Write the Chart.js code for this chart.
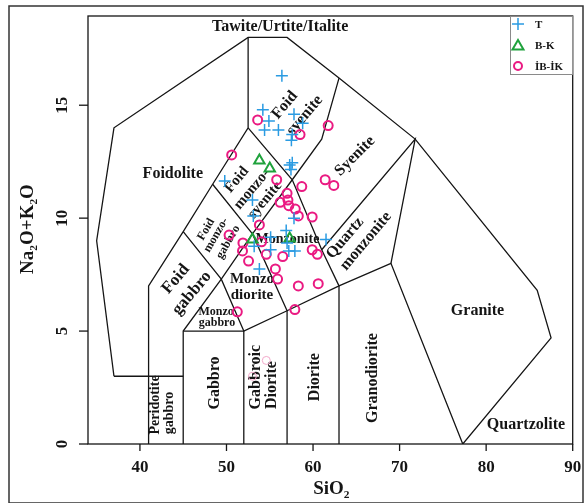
<!DOCTYPE html>
<html>
<head>
<meta charset="utf-8">
<script src="https://cdn.jsdelivr.net/npm/chart.js@4.4.0/dist/chart.umd.min.js"></script>
<style>
  body { margin: 0; background: #fff; }
  canvas { display: block; }
</style>
</head>
<body>
<canvas id="tasChart" width="588" height="503"></canvas>
<script>
// tick values
var xTicks = [40, 50, 60, 70, 80, 90];
var yTicks = [0, 5, 10, 15];

// sample groups (SiO2 vs Na2O+K2O, wt%)
var seriesNames = ['T', 'B-K', 'İB-İK'];
var tSiO2 = [56.4, 54.2, 54.9, 54.4, 56.0, 57.8, 58.8, 57.6, 57.5, 57.3, 57.6, 57.45, 49.8, 53.0, 53.1, 57.8, 56.9, 55.1, 55.1, 53.2, 57.0, 57.2, 57.9, 61.5, 53.8];
var tAlk  = [16.3, 14.8, 14.3, 13.9, 13.9, 14.6, 14.2, 13.7, 13.45, 12.35, 12.45, 12.15, 11.65, 10.8, 10.1, 10.0, 9.45, 9.15, 8.6, 8.75, 8.9, 8.55, 8.55, 9.05, 7.75];
var bkSiO2 = [53.8, 55.0, 53.0, 57.3];
var bkAlk  = [12.55, 12.2, 9.05, 9.1];
var ibSiO2 = [53.6, 58.5, 61.75, 50.6, 55.8, 58.7, 61.4, 62.4, 57.0, 56.2, 57.1, 57.2, 57.95, 58.3, 59.9, 53.8, 50.3, 51.9, 51.85, 52.55, 54.05, 54.6, 56.5, 59.9, 60.5, 55.65, 55.9, 58.3, 60.6, 57.9, 51.25];
var ibAlk  = [14.35, 13.7, 14.1, 12.8, 11.7, 11.4, 11.7, 11.45, 11.1, 10.7, 10.8, 10.55, 10.4, 10.1, 10.05, 9.7, 9.25, 8.9, 8.55, 8.1, 8.95, 8.4, 8.3, 8.6, 8.4, 7.75, 7.3, 7.0, 7.1, 5.95, 5.85];
// faint (ghost) circles in gabbroic diorite field
var ghostSiO2 = [54.6, 53.0];
var ghostAlk  = [3.7, 3.0];

// field boundaries (Middlemost 1994, plutonic TAS)
var fieldLines = [
  [[37,3],[35,9],[37,14],[52.5,18],[57,18],[63,16.2],[71.8,13.5],[85.9,6.8],[87.5,4.7],[77.3,0]],
  [[37,3],[45,3]],
  [[41,0],[41,7],[45,9.4],[48.4,11.5],[52.5,14],[52.5,18]],
  [[45,0],[45,5],[49.4,7.3],[53,9.3],[57.6,11.7],[61,13.5],[63,16.2]],
  [[45,9.4],[49.4,7.3],[52,5]],
  [[48.4,11.5],[53,9.3],[57,5.9]],
  [[52.5,14],[57.6,11.7],[61,8.6],[63,7]],
  [[45,5],[52,5],[57,5.9],[63,7],[69,8],[77.3,0]],
  [[52,0],[52,5]],
  [[57,0],[57,5.9]],
  [[63,0],[63,7]],
  [[61,8.6],[71.8,13.5],[69,8]]
];

// field names: [text, SiO2, alk, angle, font size]
var fieldNames = [
  ['Tawite/Urtite/Italite', 56.2, 18.45, 0, 16],
  ['Foidolite', 43.8, 11.95, 0, 16],
  ['Foid', 56.75, 15.0, -50, 16],
  ['syenite', 59.05, 14.55, -50, 16],
  ['Syenite', 64.85, 12.75, -45, 16],
  ['Foid', 51.2, 11.7, -50, 15],
  ['monzo-', 52.95, 11.28, -50, 15],
  ['syenite', 54.45, 10.8, -50, 15],
  ['Foid', 47.65, 9.5, -60, 12],
  ['monzo-', 48.8, 9.25, -60, 12],
  ['gabbro', 50.2, 8.94, -60, 12],
  ['Foid', 44.15, 7.3, -50, 17],
  ['gabbro', 46.0, 6.68, -50, 17],
  ['Monzonite', 57.05, 9.07, 0, 14],
  ['Monzo', 52.95, 7.3, 0, 15],
  ['diorite', 52.95, 6.59, 0, 15],
  ['Monzo', 48.8, 5.84, 0, 12],
  ['gabbro', 48.9, 5.35, 0, 12],
  ['Quartz', 63.7, 9.12, -50, 16],
  ['monzonite', 66.1, 8.98, -50, 16],
  ['Granite', 79.0, 5.9, 0, 16],
  ['Quartzolite', 84.6, 0.84, 0, 16],
  ['Peridotite', 41.75, 1.73, -90, 14],
  ['gabbro', 43.45, 1.37, -90, 14],
  ['Gabbro', 48.65, 2.7, -90, 16],
  ['Gabbroic', 53.4, 2.96, -90, 16],
  ['Diorite', 55.25, 2.61, -90, 16],
  ['Diorite', 60.25, 2.96, -90, 16],
  ['Granodiorite', 66.95, 2.92, -90, 16]
];

var SERIF = '"Liberation Serif", "Times New Roman", serif';
var INK = '#151515';
var colT = '#2a9be2', colBK = '#1fa23c', colIB = '#ea1a82';

function pts(xs, ys) {
  return xs.map(function (x, i) { return { x: x, y: ys[i] }; });
}

var datasets = fieldLines.map(function (line) {
  return {
    data: line.map(function (p) { return { x: p[0], y: p[1] }; }),
    showLine: true, pointRadius: 0, borderColor: INK, borderWidth: 1.3,
    fill: false, tension: 0, order: 3
  };
});
datasets.push({ label: '', data: pts(ghostSiO2, ghostAlk), pointStyle: 'circle', pointRadius: 4,
  borderColor: '#f4a9cb', backgroundColor: 'rgba(0,0,0,0)', pointBorderWidth: 1, order: 2 });
datasets.push({ label: seriesNames[0], data: pts(tSiO2, tAlk), pointStyle: 'cross', pointRadius: 6,
  borderColor: colT, backgroundColor: colT, pointBorderWidth: 1.5, order: 1 });
datasets.push({ label: seriesNames[1], data: pts(bkSiO2, bkAlk), pointStyle: 'triangle', pointRadius: 6,
  borderColor: colBK, backgroundColor: 'rgba(0,0,0,0)', pointBorderWidth: 2, order: 1 });
datasets.push({ label: seriesNames[2], data: pts(ibSiO2, ibAlk), pointStyle: 'circle', pointRadius: 4.5,
  borderColor: colIB, backgroundColor: 'rgba(0,0,0,0)', pointBorderWidth: 2, order: 1 });

// draws text with subscript parts, centered at (x, y), rotated
function richText(ctx, parts, x, y, angle, size) {
  ctx.save();
  ctx.translate(x, y);
  ctx.rotate(angle * Math.PI / 180);
  var w = 0;
  parts.forEach(function (p) {
    ctx.font = 'bold ' + (p.sub ? size * 0.6 : size) + 'px ' + SERIF;
    w += ctx.measureText(p.t).width;
  });
  var cx = -w / 2;
  ctx.textAlign = 'left';
  ctx.textBaseline = 'middle';
  parts.forEach(function (p) {
    ctx.font = 'bold ' + (p.sub ? size * 0.6 : size) + 'px ' + SERIF;
    ctx.fillText(p.t, cx, p.sub ? size * 0.3 : 0);
    cx += ctx.measureText(p.t).width;
  });
  ctx.restore();
}

var decor = {
  id: 'decor',
  beforeDraw: function (chart) {
    var ctx = chart.ctx;
    ctx.save();
    ctx.fillStyle = '#fff';
    ctx.fillRect(0, 0, chart.width, chart.height);
    ctx.restore();
  },
  beforeDatasetsDraw: function (chart) {
    var ctx = chart.ctx, xs = chart.scales.x, ys = chart.scales.y;
    ctx.save();
    ctx.fillStyle = INK;
    ctx.textAlign = 'center';
    ctx.textBaseline = 'middle';
    fieldNames.forEach(function (f) {
      ctx.save();
      ctx.translate(xs.getPixelForValue(f[1]), ys.getPixelForValue(f[2]));
      ctx.rotate(f[3] * Math.PI / 180);
      ctx.font = 'bold ' + f[4] + 'px ' + SERIF;
      ctx.fillText(f[0], 0, 0);
      ctx.restore();
    });
    ctx.restore();
  },
  afterDraw: function (chart) {
    var ctx = chart.ctx, a = chart.chartArea, xs = chart.scales.x, ys = chart.scales.y;
    ctx.save();
    // plot box
    ctx.strokeStyle = INK;
    ctx.lineWidth = 1.3;
    ctx.strokeRect(a.left, a.top, a.right - a.left, a.bottom - a.top);
    // ticks + tick labels
    ctx.fillStyle = INK;
    ctx.font = 'bold 17px ' + SERIF;
    ctx.textAlign = 'center';
    ctx.textBaseline = 'middle';
    xTicks.forEach(function (v) {
      var px = xs.getPixelForValue(v);
      ctx.beginPath(); ctx.moveTo(px, a.bottom); ctx.lineTo(px, a.bottom + 7); ctx.stroke();
      ctx.fillText(String(v), px, a.bottom + 24);
    });
    yTicks.forEach(function (v) {
      var py = ys.getPixelForValue(v);
      ctx.beginPath(); ctx.moveTo(a.left - 9, py); ctx.lineTo(a.left, py); ctx.stroke();
      ctx.save();
      ctx.translate(a.left - 25, py);
      ctx.rotate(-Math.PI / 2);
      ctx.fillText(String(v), 0, 0);
      ctx.restore();
    });
    // axis titles
    richText(ctx, [{ t: 'SiO' }, { t: '2', sub: true }], (a.left + a.right) / 2 + 1, a.bottom + 45, 0, 19);
    richText(ctx, [{ t: 'Na' }, { t: '2', sub: true }, { t: 'O+K' }, { t: '2', sub: true }, { t: 'O' }],
      28, 229, -90, 19);
    // legend
    var lx = 510, ly = a.top, lw = a.right - 510, lh = 58;
    ctx.strokeStyle = '#8a8a8a';
    ctx.lineWidth = 1;
    ctx.fillStyle = '#fff';
    ctx.fillRect(lx, ly, lw, lh);
    ctx.strokeRect(lx + 0.5, ly + 0.5, lw - 0.5, lh);
    var rows = [8, 29, 50];
    chart.data.datasets.filter(function (d) { return seriesNames.indexOf(d.label) >= 0; })
      .forEach(function (d, i) {
        var cy = ly + rows[i];
        ctx.strokeStyle = d.borderColor;
        ctx.lineWidth = d.pointBorderWidth;
        ctx.beginPath();
        if (d.pointStyle === 'cross') {
          ctx.moveTo(lx + 2, cy); ctx.lineTo(lx + 14, cy);
          ctx.moveTo(lx + 8, cy - 6); ctx.lineTo(lx + 8, cy + 6);
        } else if (d.pointStyle === 'triangle') {
          ctx.moveTo(lx + 8, cy - 5); ctx.lineTo(lx + 13.5, cy + 4.5); ctx.lineTo(lx + 2.5, cy + 4.5); ctx.closePath();
        } else {
          ctx.arc(lx + 8, cy, 4, 0, Math.PI * 2);
        }
        ctx.stroke();
        ctx.fillStyle = INK;
        ctx.font = 'bold 11px ' + SERIF;
        ctx.textAlign = 'left';
        ctx.fillText(d.label, lx + 25, cy + 1);
      });
    // outer frame
    ctx.strokeStyle = '#333';
    ctx.lineWidth = 1.5;
    ctx.strokeRect(9, 6, 574, 497);
    ctx.restore();
  }
};

new Chart(document.getElementById('tasChart').getContext('2d'), {
  type: 'scatter',
  data: { datasets: datasets },
  options: {
    responsive: false,
    animation: false,
    devicePixelRatio: 1,
    layout: { padding: { left: 88, top: 16, right: 15.3, bottom: 59 } },
    scales: {
      x: { type: 'linear', min: 34, max: 90, display: false },
      y: { type: 'linear', min: 0, max: 18.95, display: false }
    },
    plugins: { legend: { display: false }, tooltip: { enabled: false } }
  },
  plugins: [decor]
});
</script>
</body>
</html>
